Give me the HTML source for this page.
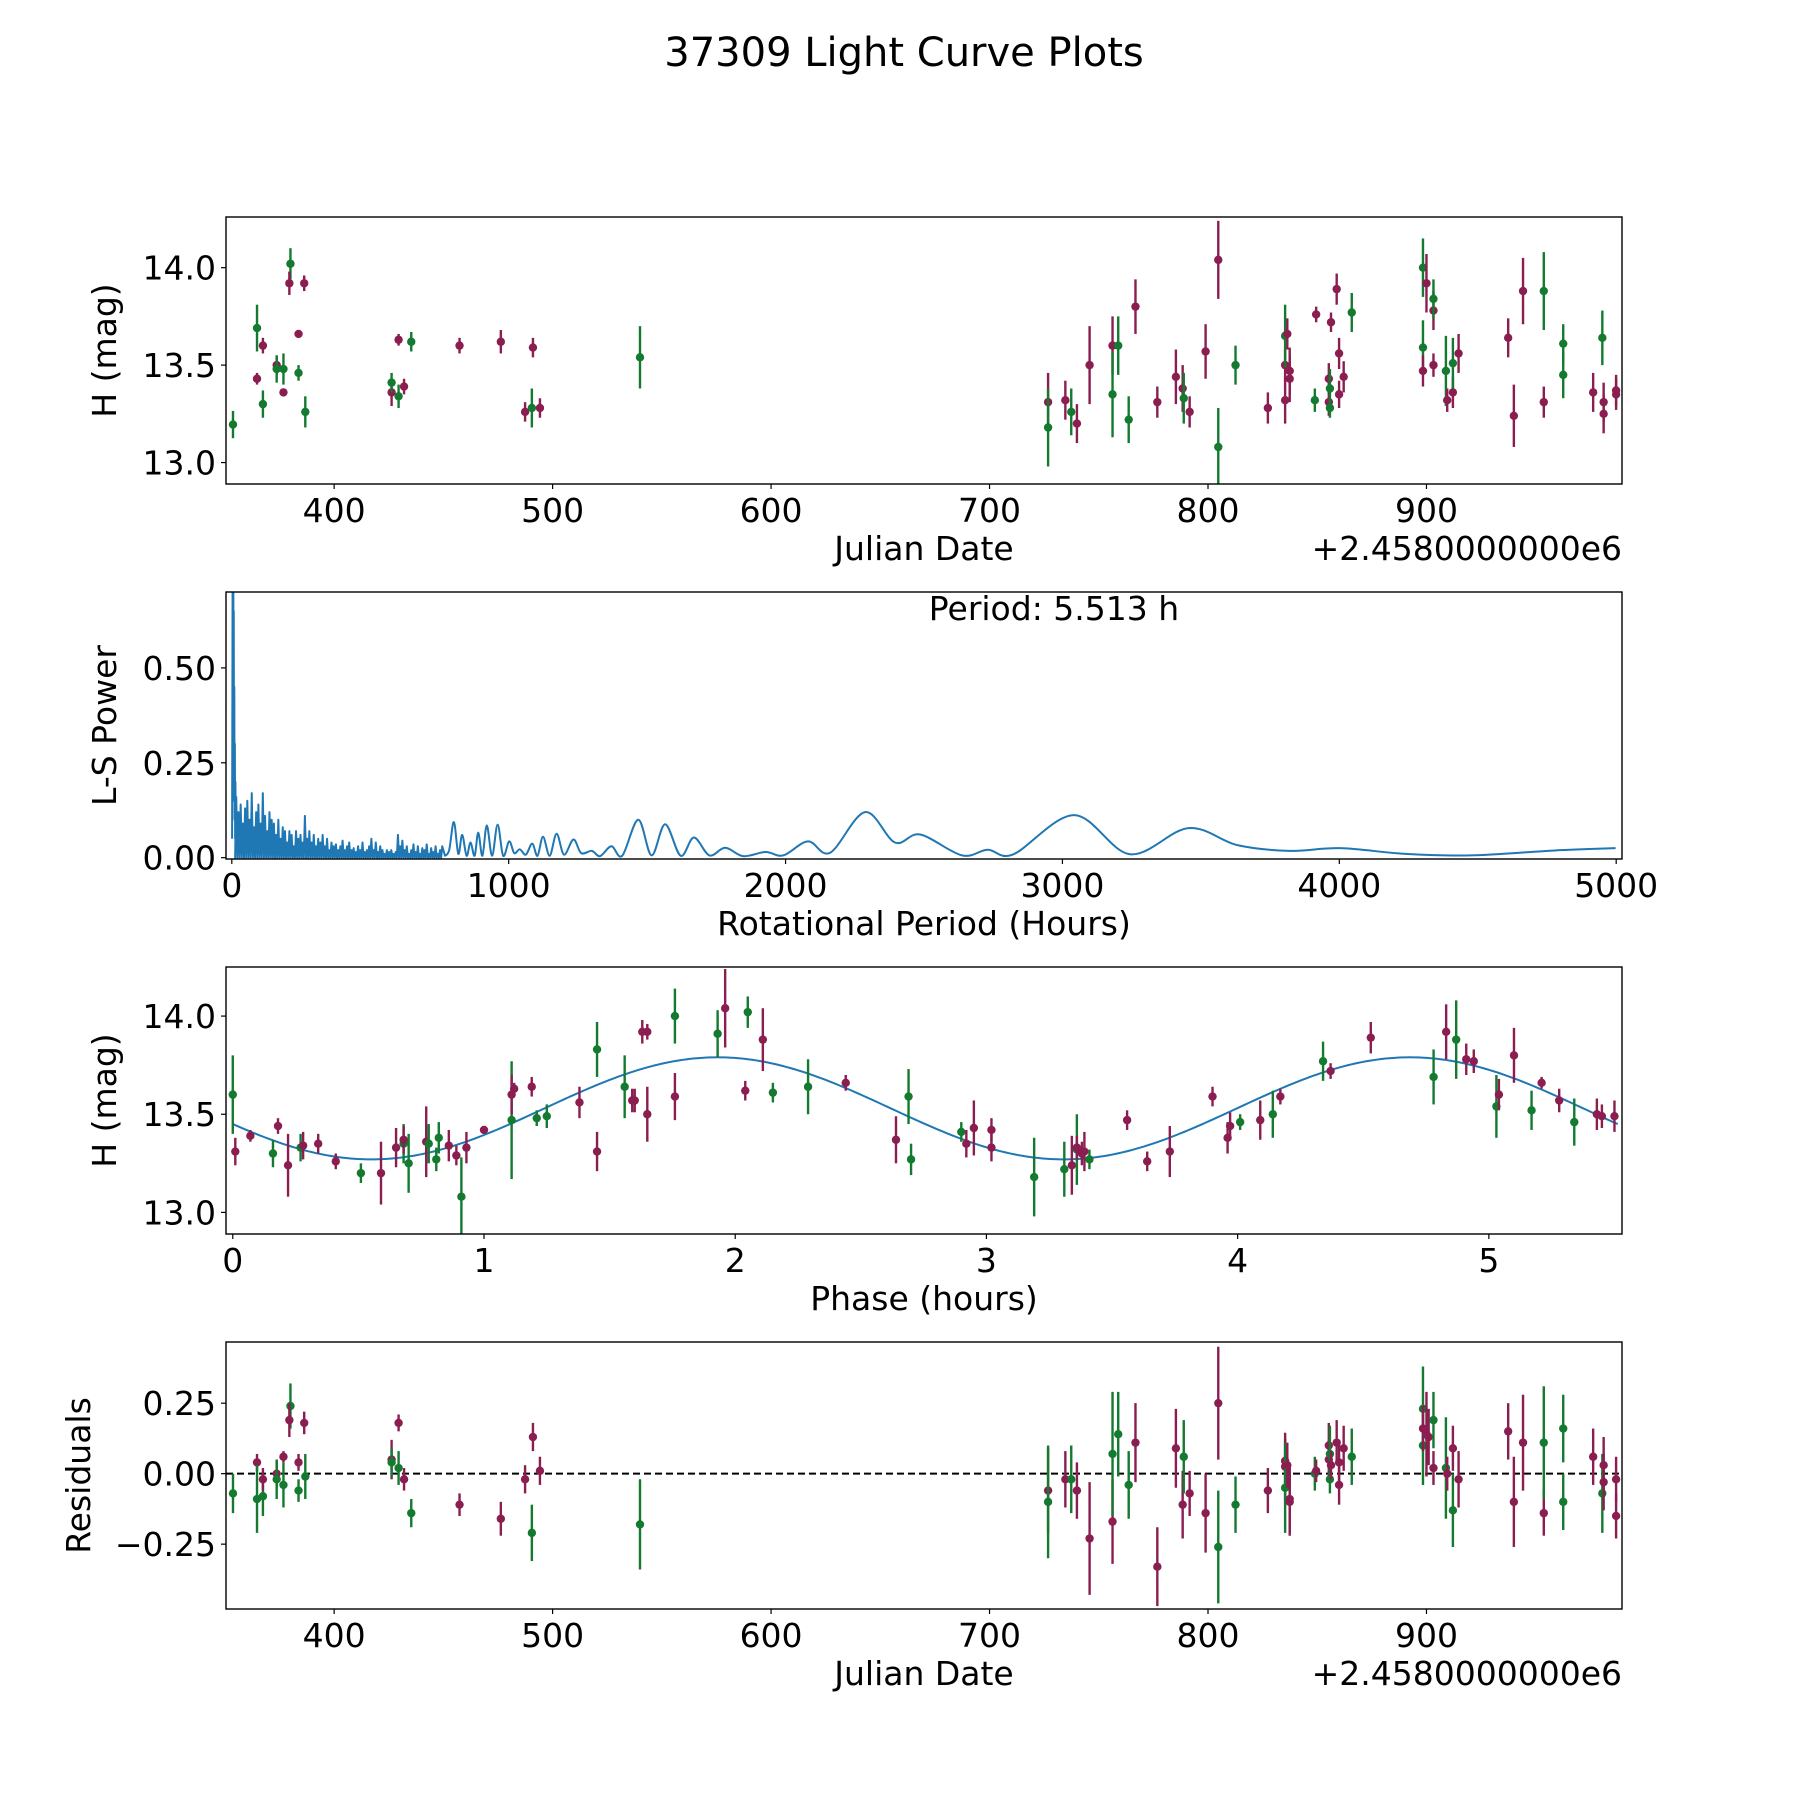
<!DOCTYPE html>
<html><head><meta charset="utf-8"><title>37309 Light Curve Plots</title>
<style>
html,body{margin:0;padding:0;background:#fff;}
svg{display:block;font-family:"DejaVu Sans","Liberation Sans",sans-serif;}
</style></head>
<body>
<svg id="fig" width="1800" height="1800" viewBox="0 0 1800 1800" xmlns="http://www.w3.org/2000/svg">
<rect x="0" y="0" width="1800" height="1800" fill="#fff"/>
<text x="904" y="66" font-size="40" text-anchor="middle">37309 Light Curve Plots</text>
</svg>
<script>
// ---------- Panel 1: light curve ----------
const lcDates=[353.7,364.7,364.7,367.4,367.4,373.7,373.7,376.8,376.8,380,379.5,383.7,383.7,386.3,386.8,426.3,426.3,429.5,429.5,432,435.3,457.4,476.3,487.4,490.5,491,494.2,540,726.8,726.8,734.7,737.4,740,745.8,756.3,756.3,758.9,763.7,766.8,776.8,785.3,788.4,788.9,791.6,798.9,804.7,804.7,812.6,827.4,835.3,835.3,835.3,836.3,837.4,837.4,848.9,849.5,855.3,855.3,855.8,855.8,856.3,858.9,860,860,862.1,865.8,898.4,898.4,898.4,900,903.2,903.2,903.2,908.9,909.5,912.1,912.1,914.7,937.4,940,944.2,953.7,953.7,962.6,962.6,976.3,980.5,981.1,981.1,986.8,986.8];
const lcMags=[13.195,13.69,13.43,13.30,13.60,13.50,13.48,13.48,13.36,14.02,13.92,13.66,13.46,13.92,13.26,13.36,13.41,13.34,13.63,13.39,13.62,13.60,13.62,13.26,13.28,13.59,13.28,13.54,13.31,13.18,13.32,13.26,13.20,13.50,13.60,13.35,13.60,13.22,13.80,13.31,13.44,13.38,13.33,13.26,13.57,14.04,13.08,13.50,13.28,13.50,13.32,13.65,13.66,13.43,13.47,13.32,13.76,13.31,13.43,13.38,13.28,13.72,13.89,13.35,13.56,13.44,13.77,14.00,13.59,13.47,13.92,13.78,13.84,13.50,13.47,13.32,13.36,13.51,13.56,13.64,13.24,13.88,13.31,13.88,13.61,13.45,13.36,13.64,13.31,13.25,13.37,13.35];
const lcErrs=[.07,.12,.03,.07,.04,.05,.07,.08,.02,.08,.06,.02,.04,.04,.08,.07,.05,.06,.03,.04,.05,.04,.06,.05,.10,.05,.05,.16,.15,.20,.10,.12,.10,.20,.15,.22,.15,.12,.14,.08,.14,.12,.13,.08,.14,.20,.20,.10,.08,.08,.12,.16,.08,.12,.12,.06,.04,.07,.08,.10,.05,.05,.08,.07,.08,.08,.10,.15,.14,.08,.15,.10,.10,.06,.18,.06,.08,.13,.10,.10,.16,.17,.08,.20,.10,.12,.10,.14,.10,.10,.08,.08];
const lcBands=("ggpgppggpg"+"ppgpgpggpp"+"gpppgppgpg"+"pgpppgggpp"+"ppgpppggpp"+"pgpppgpppg"+"gpppppgggp"+"ppgpgppgpp"+"pppgggpgpp"+"pp").split("");
// ---------- Panel 2: periodogram ----------
const spikePeriods=[1,2,3,4,5,5.5,6,7,8,9,10,11,12,13,14];
const spikePowers=[0.05,0.4,0.8,0.3,0.6,0.8,0.2,0.65,0.15,0.45,0.1,0.3,0.05,0.2,0.1];
const noiseStart=16, noiseStep=8;
const noisePowers=[.16,.12,.14,.09,.13,.15,.10,.17,.08,.12,.14,.09,.17,.11,.07,.12,.10,
.09,.06,.10,.05,.08,.07,.04,.07,.06,.03,.07,.05,.06,.04,.11,.05,.07,.04,.06,
.03,.05,.04,.06,.03,.05,.02,.04,.03,.035,.02,.03,.045,.02,.03,.04,.02,.025,.015,.03,.02,.04,.015,.02,.03,
.05,.02,.04,.015,.03,.02,.01,.02,.015,.02,.01,.015,.06,.03,.045,.02,.03,.01,.02,.035,.015,.03,.01,.025,.02,.035,.01,.025,.015,.03,.01,.02,.03];
const smoothPeriods=[770,785,802,818,832,848,862,877,890,905,921,940,960,980,1002,1020,1040,1062,1085,1104,1124,1148,1173,1200,1234,1262,1300,1330,1371,1410,1468,1516,1565,1621,1669,1725,1782,1847,1928,1992,2081,2161,2287,2395,2486,2637,2730,2823,3042,3244,3455,3632,3818,4003,4239,4475,4779,4998];
const smoothPowers=[0.005,0.02,0.094,0.01,0.06,0.005,0.04,0.005,0.066,0.005,0.085,0.005,0.087,0.005,0.043,0.012,0.022,0.008,0.037,0.005,0.055,0.005,0.063,0.008,0.048,0.012,0.018,0.004,0.03,0.005,0.1,0.006,0.088,0.005,0.053,0.006,0.026,0.004,0.015,0.006,0.043,0.013,0.12,0.04,0.061,0.006,0.021,0.009,0.112,0.009,0.078,0.033,0.018,0.025,0.01,0.006,0.019,0.025];
// ---------- Panel 3: phased ----------
const phPhase=[0.01,0.0,0.07,0.16,0.18,0.22,0.27,0.28,0.34,0.41,0.51,0.59,0.65,0.68,0.68,0.70,0.77,0.78,0.81,0.82,0.86,0.89,0.91,0.93,1.0,1.11,1.11,1.12,1.19,1.21,1.25,1.38,1.45,1.45,1.56,1.59,1.60,1.63,1.65,1.65,1.76,1.76,1.93,1.96,2.04,2.05,2.11,2.15,2.29,2.44,2.64,2.69,2.70,2.90,2.92,2.95,3.02,3.02,3.19,3.31,3.34,3.36,3.36,3.38,3.39,3.41,3.56,3.64,3.73,3.90,3.96,3.97,4.01,4.09,4.14,4.17,4.34,4.37,4.53,4.78,4.83,4.87,4.91,4.94,5.03,5.04,5.10,5.17,5.21,5.28,5.34,5.43,5.45,5.50];
const phMags=[13.31,13.60,13.39,13.30,13.44,13.24,13.33,13.34,13.35,13.26,13.20,13.20,13.33,13.35,13.37,13.25,13.36,13.35,13.27,13.38,13.34,13.29,13.08,13.33,13.42,13.47,13.60,13.63,13.64,13.48,13.49,13.56,13.31,13.83,13.64,13.57,13.57,13.92,13.92,13.50,14.00,13.59,13.91,14.04,13.62,14.02,13.88,13.61,13.64,13.66,13.37,13.59,13.27,13.41,13.35,13.43,13.42,13.33,13.18,13.22,13.24,13.32,13.33,13.30,13.31,13.27,13.47,13.26,13.31,13.59,13.38,13.44,13.46,13.47,13.50,13.59,13.77,13.72,13.89,13.69,13.92,13.88,13.78,13.77,13.54,13.60,13.80,13.52,13.66,13.57,13.46,13.50,13.49,13.49];
const phErrs=[.07,.2,.03,.07,.04,.16,.07,.07,.05,.04,.05,.16,.1,.1,.07,.15,.18,.1,.06,.08,.08,.05,.2,.08,.02,.3,.1,.03,.05,.04,.06,.08,.1,.14,.16,.06,.06,.06,.04,.14,.14,.12,.12,.2,.05,.08,.16,.05,.14,.04,.12,.14,.08,.05,.07,.14,.06,.07,.2,.14,.15,.18,.06,.06,.1,.05,.05,.05,.13,.05,.08,.07,.04,.1,.12,.04,.1,.04,.08,.14,.14,.2,.08,.06,.16,.08,.14,.1,.03,.06,.12,.08,.06,.08];
const phBands=("pgpgppgppp"+"gppgpgpggg"+"ppgppgpppg"+"gppggppppp"+"gpgppgpggp"+"pgggppppgg"+"pgpppgpppp"+"ppgpgpgppg"+"pgppgppgpp"+"gppp").split("");
const fitMean=13.53, fitAmp=0.26, fitPeakPhase=1.93, fitHalfPeriod=2.7565, fitMaxPhase=5.513;
// ---------- Panel 4: residuals ----------
const resDates=[353.7,364.7,364.7,367.4,367.4,373.7,373.7,376.8,376.8,380,379.5,383.7,383.7,386.3,386.8,426.3,426.3,429.5,429.5,432,435.3,457.4,476.3,487.4,490.5,491,494.2,540,726.8,726.8,734.7,737.4,740,745.8,756.3,756.3,758.9,763.7,766.8,776.8,785.3,788.4,788.9,791.6,798.9,804.7,804.7,812.6,827.4,835.3,835.3,835.3,836.3,837.4,837.4,848.9,849.5,855.3,855.3,855.8,855.8,856.3,858.9,860,860,862.1,865.8,898.4,898.4,898.4,900,901,903.2,903.2,908.9,909.5,912.1,912.1,914.7,937.4,940,944.2,953.7,953.7,962.6,962.6,976.3,980.5,981.1,981.1,986.8,986.8];
const resVals=[-0.07,0.04,-0.09,-0.08,-0.02,0.0,-0.02,-0.04,0.06,0.24,0.19,0.04,-0.06,0.18,-0.01,0.05,0.04,0.02,0.18,-0.02,-0.14,-0.11,-0.16,-0.02,-0.21,0.13,0.01,-0.18,-0.06,-0.10,-0.02,-0.02,-0.06,-0.23,-0.17,0.07,0.14,-0.04,0.11,-0.33,0.09,-0.11,0.06,-0.07,-0.14,0.25,-0.26,-0.11,-0.06,0.045,0.025,-0.05,0.03,-0.09,-0.10,0.0,0.01,0.05,0.10,0.07,-0.02,0.03,0.11,-0.04,0.04,0.09,0.06,0.23,0.10,0.16,0.14,0.13,0.19,0.02,0.02,0.0,0.09,-0.13,-0.02,0.15,-0.10,0.11,-0.14,0.11,-0.10,0.16,0.06,-0.07,0.03,-0.03,-0.02,-0.15];
const resErrs=[.07,.03,.12,.07,.04,.05,.07,.08,.02,.08,.06,.03,.04,.04,.08,.07,.05,.06,.03,.04,.05,.04,.06,.05,.10,.05,.05,.16,.15,.20,.10,.12,.10,.20,.15,.22,.15,.12,.14,.14,.14,.12,.13,.08,.14,.20,.20,.10,.08,.08,.12,.16,.08,.12,.12,.06,.04,.07,.08,.10,.05,.05,.08,.07,.08,.08,.10,.15,.14,.08,.15,.10,.10,.06,.18,.06,.08,.13,.10,.10,.16,.17,.08,.20,.10,.12,.10,.14,.10,.10,.08,.08];
const resBands=("gpggppggpg"+"ppgpgpggpp"+"gpppgppgpg"+"pgpppgggpp"+"ppgpppggpp"+"pgpppgpppg"+"gpppppgggp"+"ppgpgppgpp"+"pppgggpgpp"+"pp").split("");

const C_P="#8b1e50", C_G="#137a30", C_L="#1f77b4";
const NS="http://www.w3.org/2000/svg";
const svg=document.getElementById("fig");
function mk(tag,attrs,parent){const e=document.createElementNS(NS,tag);for(const k in attrs)e.setAttribute(k,attrs[k]);(parent||svg).appendChild(e);return e;}

const L=226,R=1622;
const panels=[
 {id:"lightcurve",top:217,bot:484,x0:350.5,x1:989.5,y0:12.89,y1:14.26,xt:[400,500,600,700,800,900],xtl:["400","500","600","700","800","900"],yt:[13.0,13.5,14.0],ytl:["13.0","13.5","14.0"],xlab:"Julian Date",ylab:"H (mag)",ylx:116,off:"+2.4580000000e6"},
 {id:"periodogram",top:592,bot:859,x0:-21,x1:5021,y0:-0.0035,y1:0.70,xt:[0,1000,2000,3000,4000,5000],xtl:["0","1000","2000","3000","4000","5000"],yt:[0,0.25,0.5],ytl:["0.00","0.25","0.50"],xlab:"Rotational Period (Hours)",ylab:"L-S Power",ylx:116},
 {id:"phased",top:967,bot:1234,x0:-0.027,x1:5.53,y0:12.89,y1:14.25,xt:[0,1,2,3,4,5],xtl:["0","1","2","3","4","5"],yt:[13.0,13.5,14.0],ytl:["13.0","13.5","14.0"],xlab:"Phase (hours)",ylab:"H (mag)",ylx:116},
 {id:"residuals",top:1342,bot:1609,x0:350.5,x1:989.5,y0:-0.48,y1:0.467,xt:[400,500,600,700,800,900],xtl:["400","500","600","700","800","900"],yt:[-0.25,0,0.25],ytl:["\u22120.25","0.00","0.25"],xlab:"Julian Date",ylab:"Residuals",ylx:90,off:"+2.4580000000e6"}
];
panels.forEach(p=>{
 p.sx=v=>L+(v-p.x0)/(p.x1-p.x0)*(R-L);
 p.sy=v=>p.bot-(v-p.y0)/(p.y1-p.y0)*(p.bot-p.top);
 const g=mk("g",{});
 
 
 p.g=g;
 const cp=mk("clipPath",{id:"clip-"+p.id},g);
 mk("rect",{x:L,y:p.top,width:R-L,height:p.bot-p.top},cp);
 p.plot=mk("g",{"clip-path":"url(#clip-"+p.id+")"},g);
 
 
});

function errbar(p,x,y,e,band,name){
 const col=band==="g"?C_G:C_P;
 const gg=mk("g",{},p.plot);
 
 
 mk("line",{x1:p.sx(x),x2:p.sx(x),y1:p.sy(y-e),y2:p.sy(y+e),stroke:col,"stroke-width":2.4},gg);
 mk("circle",{cx:p.sx(x),cy:p.sy(y),r:4.2,fill:col},gg);
}

// Panel 1
const P1=panels[0];
lcDates.forEach((d,i)=>errbar(P1,d,lcMags[i],lcErrs[i],lcBands[i],"lc-point"));

// Panel 2
const P2=panels[1];
let pts=[];
spikePeriods.forEach((t,i)=>pts.push([t,spikePowers[i]]));
noisePowers.forEach((v,i)=>{const t=noiseStart+noiseStep*i;pts.push([t-noiseStep/2,0]);pts.push([t,v]);});
let d="M"+pts.map(q=>P2.sx(q[0]).toFixed(2)+","+P2.sy(q[1]).toFixed(2)).join("L");
const sp=smoothPeriods.map((t,i)=>[P2.sx(t),P2.sy(smoothPowers[i])]);
d+="L"+sp[0][0].toFixed(2)+","+sp[0][1].toFixed(2);
for(let i=0;i<sp.length-1;i++){
 const p0=sp[Math.max(0,i-1)],p1=sp[i],p2=sp[i+1],p3=sp[Math.min(sp.length-1,i+2)];
 const c1=[p1[0]+(p2[0]-p0[0])/6,p1[1]+(p2[1]-p0[1])/6];
 const c2=[p2[0]-(p3[0]-p1[0])/6,p2[1]-(p3[1]-p1[1])/6];
 d+="C"+c1[0].toFixed(2)+","+c1[1].toFixed(2)+" "+c2[0].toFixed(2)+","+c2[1].toFixed(2)+" "+p2[0].toFixed(2)+","+p2[1].toFixed(2);
}
const pl=mk("path",{d:d,fill:"none",stroke:C_L,"stroke-width":2,"stroke-linejoin":"round"},P2.plot);


const ann=mk("text",{x:1054,y:620,"font-size":33,"text-anchor":"middle"},P2.g);
ann.textContent="Period: 5.513 h";



// Panel 3
const P3=panels[2];
let fd="";
for(let k=0;k<=400;k++){const ph=fitMaxPhase*k/400;const m=fitMean+fitAmp*Math.cos(2*Math.PI*(ph-fitPeakPhase)/fitHalfPeriod);fd+=(k?"L":"M")+P3.sx(ph).toFixed(2)+","+P3.sy(m).toFixed(2);}
const fl=mk("path",{d:fd,fill:"none",stroke:C_L,"stroke-width":2},P3.plot);


phPhase.forEach((ph,i)=>errbar(P3,ph,phMags[i],phErrs[i],phBands[i],"phase-point"));

// Panel 4
const P4=panels[3];
const zl=mk("line",{x1:L,x2:R,y1:P4.sy(0),y2:P4.sy(0),stroke:"#000","stroke-width":2,"stroke-dasharray":"7,4"},P4.plot);


resDates.forEach((dd,i)=>errbar(P4,dd,resVals[i],resErrs[i],resBands[i],"residual-point"));

// axes
panels.forEach(p=>{
 const fr=mk("rect",{x:L,y:p.top,width:R-L,height:p.bot-p.top,fill:"none",stroke:"#000","stroke-width":1.4},p.g);
 
 
 p.xt.forEach((v,i)=>{
  const x=p.sx(v);
  mk("line",{x1:x,x2:x,y1:p.bot,y2:p.bot+5,stroke:"#000","stroke-width":1.2},p.g);
  const t=mk("text",{x:x,y:p.bot+38,"font-size":33,"text-anchor":"middle"},p.g);
  t.textContent=p.xtl[i];
  
  
 });
 p.yt.forEach((v,i)=>{
  const y=p.sy(v);
  mk("line",{x1:L-5,x2:L,y1:y,y2:y,stroke:"#000","stroke-width":1.2},p.g);
  const t=mk("text",{x:L-10,y:y+12,"font-size":33,"text-anchor":"end"},p.g);
  t.textContent=p.ytl[i];
  
  
 });
 const xl=mk("text",{x:(L+R)/2,y:p.bot+76,"font-size":33,"text-anchor":"middle"},p.g);
 xl.textContent=p.xlab;
 
 
 const cy=(p.top+p.bot)/2;
 const yl=mk("text",{x:0,y:0,"font-size":33,"text-anchor":"middle",transform:"translate("+p.ylx+","+cy+") rotate(-90)"},p.g);
 yl.textContent=p.ylab;
 
 
 if(p.off){
  const o=mk("text",{x:R,y:p.bot+76,"font-size":33,"text-anchor":"end"},p.g);
  o.textContent=p.off;
  
  
 }
});
</script>
</body></html>
